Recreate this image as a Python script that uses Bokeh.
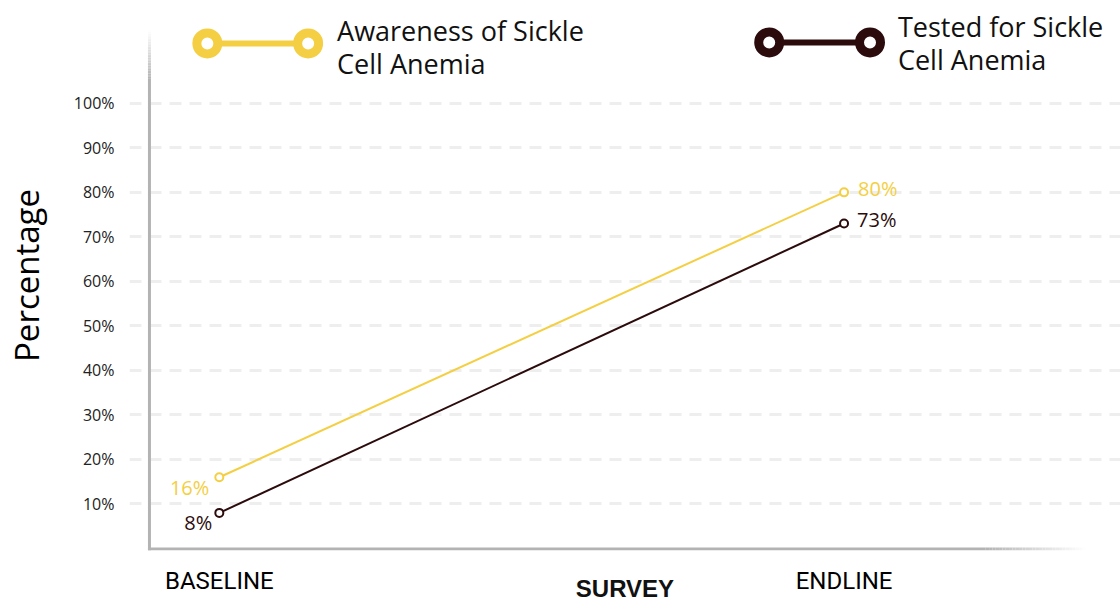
from bokeh.plotting import figure
from bokeh.models import Range1d, FixedTicker
from bokeh.core.properties import value
from bokeh.embed import file_html
from bokeh.resources import INLINE

# ---- data ----
surveys = ["BASELINE", "ENDLINE"]
survey_pos = [0, 1]
awareness = [16, 80]          # Awareness of Sickle Cell Anemia (%)
tested = [8, 73]              # Tested for Sickle Cell Anemia (%)
y_ticks = [10, 20, 30, 40, 50, 60, 70, 80, 90, 100]
series_names = ["Awareness of Sickle\nCell Anemia", "Tested for Sickle\nCell Anemia"]

YELLOW = "#F4CF43"
DARK = "#2C0B0C"
AXIS_GREY = "#b3b3b3"
GRID_GREY = "#eeeeee"
TEXT = "#111111"
SANS = "Open Sans"

# ---- canvas / frame geometry (pixels) ----
W, H = 1120, 604
LEFT = 127
BOTTOM = 53
FRAME_W = W - LEFT
FRAME_H = H - BOTTOM
PX_PER_X = 626.0
PX_PER_Y = 4.46

x_start = -90.0 / PX_PER_X
x_end = x_start + FRAME_W / PX_PER_X
y_start = -2.0 / PX_PER_Y
y_end = y_start + FRAME_H / PX_PER_Y


def fx(px):
    """canvas x pixel -> data x"""
    return x_start + (px - LEFT) / PX_PER_X


def fy(py):
    """canvas y pixel (from top) -> data y"""
    return y_start + (FRAME_H - py) / PX_PER_Y


def blend(c1, c2, t):
    a = [int(c1[i:i + 2], 16) for i in (1, 3, 5)]
    b = [int(c2[i:i + 2], 16) for i in (1, 3, 5)]
    return "#%02x%02x%02x" % tuple(round(a[k] + (b[k] - a[k]) * t) for k in range(3))


p = figure(
    width=W, height=H,
    x_range=Range1d(x_start, x_end), y_range=Range1d(y_start, y_end),
    min_border_left=LEFT, min_border_right=0, min_border_top=0, min_border_bottom=BOTTOM,
    output_backend="svg", toolbar_location=None,
    background_fill_color="white", border_fill_color="white",
)
p.outline_line_color = None
p.xgrid.visible = False

# y axis
yax = p.yaxis[0]
yax.ticker = FixedTicker(ticks=y_ticks)
yax.major_label_overrides = {v: f"{v}%" for v in y_ticks}
yax.axis_line_color = None
yax.major_tick_line_color = None
yax.minor_tick_line_color = None
yax.major_label_standoff = 9
yax.major_label_text_font = SANS
yax.major_label_text_font_size = "16px"
yax.major_label_text_color = "#222222"
yax.axis_label = "Percentage"
yax.axis_label_text_font = SANS
yax.axis_label_text_font_style = "normal"
yax.axis_label_text_font_size = "33px"
yax.axis_label_text_color = "#000000"
yax.axis_label_standoff = 22

# x axis
xax = p.xaxis[0]
xax.ticker = FixedTicker(ticks=survey_pos)
xax.major_label_overrides = dict(zip(survey_pos, surveys))
xax.axis_line_color = None
xax.major_tick_line_color = None
xax.minor_tick_line_color = None
xax.major_label_standoff = 10
xax.major_label_text_font = "Roboto"
xax.major_label_text_font_size = "24px"
xax.major_label_text_color = "#000000"
xax.axis_label = "SURVEY"
xax.axis_label_text_font = "Liberation Sans"
xax.axis_label_text_font_style = "bold"
xax.axis_label_text_font_size = "24px"
xax.axis_label_text_color = "#111111"
xax.axis_label_standoff = -23

# dashed horizontal grid
p.ygrid.grid_line_color = GRID_GREY
p.ygrid.grid_line_width = 3
p.ygrid.grid_line_dash = "12 8"

# axis rules with faded ends
N = 30
yx = fx(147)
ys0, ys1 = fy(551), fy(78)
p.segment(x0=[yx], y0=[ys0], x1=[yx], y1=[ys1], line_color=AXIS_GREY, line_width=3)
fade_top = [fy(78 - (78 - 30) * i / N) for i in range(N + 1)]
p.segment(x0=[yx] * N, y0=fade_top[:-1], x1=[yx] * N, y1=fade_top[1:],
          line_color=[blend(AXIS_GREY, "#ffffff", (i + 0.5) / N) for i in range(N)],
          line_width=3)

xy = fy(549.5)
p.segment(x0=[fx(145.5)], y0=[xy], x1=[fx(985)], y1=[xy], line_color=AXIS_GREY, line_width=3)
fade_right = [fx(985 + (1085 - 985) * i / N) for i in range(N + 1)]
p.segment(x0=fade_right[:-1], y0=[xy] * N, x1=fade_right[1:], y1=[xy] * N,
          line_color=[blend(AXIS_GREY, "#ffffff", (i + 0.5) / N) for i in range(N)],
          line_width=3)

# series lines and markers
for vals, col in ((awareness, YELLOW), (tested, DARK)):
    p.line(survey_pos, vals, line_color=col, line_width=2)
    p.scatter(survey_pos, vals, marker="circle", size=8, line_color=col,
              line_width=2, fill_color="white")

# value labels
p.text(x=survey_pos, y=awareness, text=[f"{v}%" for v in awareness],
       text_align=["right", "left"], text_baseline="middle",
       x_offset=[-10, 14], y_offset=[10, -4],
       text_color=YELLOW, text_font=value(SANS), text_font_size="20px")
p.text(x=survey_pos, y=tested, text=[f"{v}%" for v in tested],
       text_align=["right", "left"], text_baseline="middle",
       x_offset=[-7, 13], y_offset=[10, -4],
       text_color=DARK, text_font=value(SANS), text_font_size="20px")

# legend: line with a ring at each end, text to the right
legend_rows = [
    (series_names[0], YELLOW, 205, 306, 43, 335, 12),
    (series_names[1], DARK, 768, 869, 42, 897, 8),
]
for name, col, xa, xb, yy, tx, ty in legend_rows:
    p.segment(x0=[fx(xa)], y0=[fy(yy)], x1=[fx(xb)], y1=[fy(yy)], line_color=col, line_width=6)
    p.scatter([fx(xa), fx(xb)], [fy(yy)] * 2, marker="circle", size=21,
              line_color=col, line_width=9, fill_color="white")
    p.text(x=[fx(tx)], y=[fy(ty)], text=[name], text_align="left", text_baseline="top",
           text_line_height=0.88, text_color=TEXT, text_font=value(SANS), text_font_size="27px")

open("out.html", "w").write(file_html(p, INLINE))
